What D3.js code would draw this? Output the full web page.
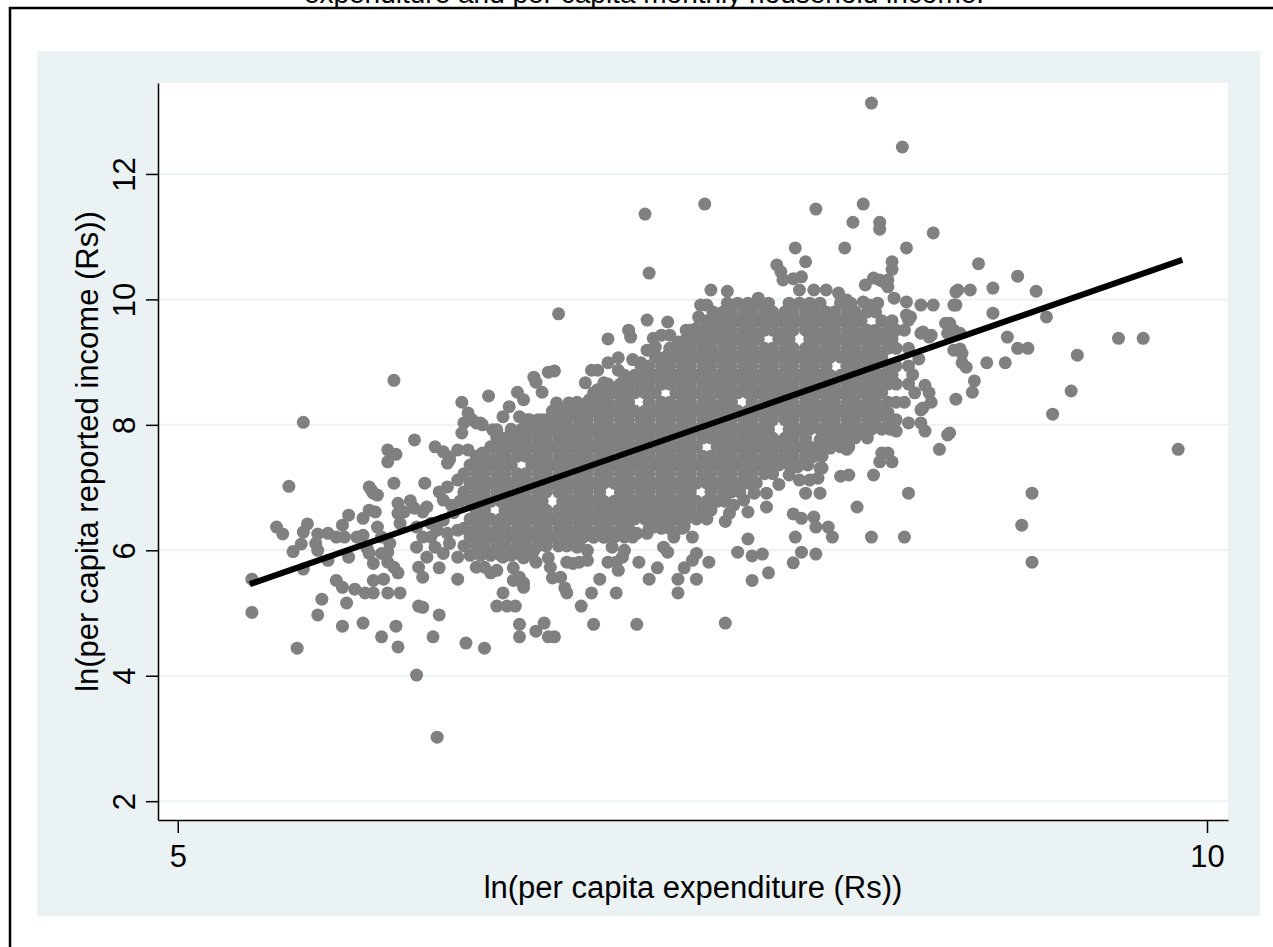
<!DOCTYPE html>
<html>
<head>
<meta charset="utf-8">
<script src="https://cdn.jsdelivr.net/npm/d3@7"></script>
<style>
  body { margin: 0; background: #fff; }
  svg { display: block; font-family: "Liberation Sans", Arial, sans-serif; }
</style>
</head>
<body>
<svg id="chart" width="1273" height="947"></svg>
<script>
// axis ticks
let yTicks = [2, 4, 6, 8, 10, 12];
let xTicks = [5, 10];

// linear fit line (end points, data units)
let fitExpenditure = [5.35, 9.88];
let fitIncome = [5.46, 10.63];

// dense core, read row by row: income level + expenditures on that row
let coreIncome = [9.94, 9.80, 9.66, 9.51, 9.37, 9.22, 9.08, 8.94, 8.79, 8.65, 8.51, 8.36, 8.22, 8.08, 7.93,
  7.79, 7.65, 7.50, 7.36, 7.22, 7.07, 6.93, 6.78, 6.64, 6.50, 6.35, 6.21, 6.07, 5.92];
let coreExpenditure = [
  [7.67,7.72,7.77,7.82,7.87,7.97,8.02,8.07,8.12,8.22,8.27],
  [7.60,7.65,7.69,7.75,7.79,7.85,7.89,7.95,7.99,8.05,8.09,8.15,8.19,8.25,8.29,8.35,8.39],
  [7.57,7.62,7.67,7.72,7.77,7.82,7.87,7.92,7.97,8.02,8.07,8.12,8.17,8.22,8.27,8.32,8.42,8.47],
  [7.49,7.55,7.59,7.65,7.69,7.75,7.79,7.85,7.89,7.95,7.99,8.05,8.09,8.15,8.19,8.25,8.29,8.35,8.39,8.45,8.49,8.53],
  [7.47,7.52,7.57,7.62,7.67,7.72,7.77,7.82,7.92,7.97,8.07,8.12,8.17,8.22,8.27,8.32,8.37,8.42,8.47],
  [7.39,7.45,7.49,7.55,7.59,7.65,7.69,7.75,7.79,7.85,7.89,7.95,7.99,8.05,8.09,8.15,8.19,8.25,8.29,8.35,8.39,8.45,8.49,8.55],
  [7.32,7.37,7.42,7.47,7.52,7.57,7.62,7.67,7.72,7.77,7.82,7.87,7.92,7.97,8.02,8.07,8.12,8.17,8.22,8.27,8.32,8.37,8.42],
  [7.25,7.29,7.35,7.39,7.45,7.49,7.55,7.59,7.65,7.69,7.75,7.79,7.85,7.89,7.95,7.99,8.05,8.09,8.15,8.25,8.29,8.35,8.39,8.45,8.49,8.55],
  [7.17,7.22,7.27,7.32,7.37,7.42,7.47,7.52,7.57,7.62,7.67,7.72,7.77,7.82,7.87,7.92,7.97,8.02,8.07,8.12,8.17,8.22,8.27,8.32,8.37,8.42,8.47],
  [7.09,7.15,7.19,7.25,7.29,7.35,7.39,7.45,7.49,7.55,7.59,7.65,7.69,7.75,7.79,7.85,7.89,7.95,7.99,8.05,8.09,8.15,8.19,8.25,8.29,8.35,8.39,8.45,8.49,8.55],
  [7.02,7.07,7.12,7.17,7.22,7.27,7.32,7.42,7.47,7.52,7.57,7.62,7.67,7.72,7.77,7.82,7.87,7.92,7.97,8.02,8.07,8.12,8.17,8.22,8.27,8.32,8.37,8.42],
  [6.94,6.99,7.05,7.09,7.15,7.19,7.29,7.35,7.39,7.45,7.49,7.55,7.59,7.65,7.69,7.79,7.85,7.89,7.95,7.99,8.05,8.09,8.15,8.19,8.25,8.29,8.35,8.39,8.45,8.49,8.53],
  [6.82,6.87,6.92,6.97,7.02,7.07,7.12,7.17,7.22,7.27,7.32,7.37,7.42,7.47,7.52,7.57,7.62,7.67,7.72,7.77,7.82,7.87,7.92,7.97,8.02,8.07,8.12,8.17,8.22,8.27,8.32,8.37,8.42],
  [6.70,6.75,6.79,6.85,6.89,6.95,6.99,7.05,7.09,7.15,7.19,7.25,7.29,7.35,7.39,7.45,7.49,7.55,7.59,7.65,7.69,7.75,7.79,7.85,7.89,7.95,7.99,8.05,8.09,8.15,8.19,8.25,8.29,8.35,8.39,8.45,8.49],
  [6.62,6.67,6.72,6.77,6.82,6.87,6.92,6.97,7.02,7.07,7.12,7.17,7.22,7.27,7.32,7.37,7.42,7.47,7.52,7.57,7.62,7.67,7.72,7.77,7.82,7.87,7.97,8.02,8.07,8.12,8.17,8.22,8.27,8.32,8.37,8.42,8.46],
  [6.55,6.59,6.65,6.69,6.75,6.79,6.85,6.89,6.95,6.99,7.05,7.09,7.15,7.19,7.25,7.29,7.35,7.39,7.45,7.49,7.55,7.59,7.65,7.69,7.75,7.79,7.85,7.89,7.95,7.99,8.05,8.15,8.19,8.25,8.29,8.35],
  [6.52,6.57,6.62,6.67,6.72,6.77,6.82,6.87,6.92,6.97,7.02,7.07,7.12,7.17,7.22,7.27,7.32,7.37,7.42,7.47,7.52,7.62,7.67,7.72,7.77,7.82,7.87,7.92,7.97,8.02,8.07,8.12,8.17,8.22,8.26],
  [6.45,6.49,6.55,6.59,6.65,6.69,6.75,6.79,6.85,6.89,6.95,6.99,7.05,7.09,7.15,7.19,7.25,7.29,7.35,7.39,7.45,7.49,7.55,7.59,7.65,7.69,7.75,7.79,7.85,7.89,7.95,7.99,8.05,8.09,8.13],
  [6.42,6.47,6.52,6.57,6.62,6.72,6.77,6.82,6.87,6.92,6.97,7.02,7.07,7.12,7.17,7.22,7.27,7.32,7.37,7.42,7.47,7.52,7.57,7.62,7.67,7.72,7.77,7.82,7.87,7.92,7.97,8.02],
  [6.39,6.45,6.49,6.55,6.59,6.65,6.69,6.75,6.79,6.85,6.89,6.95,6.99,7.05,7.09,7.15,7.19,7.25,7.29,7.35,7.39,7.45,7.49,7.55,7.59,7.65,7.69,7.75,7.79,7.85,7.89],
  [6.42,6.47,6.52,6.57,6.62,6.67,6.72,6.77,6.82,6.87,6.92,6.97,7.02,7.07,7.12,7.17,7.22,7.27,7.32,7.37,7.42,7.47,7.52,7.57,7.62,7.67,7.72,7.77,7.81],
  [6.39,6.45,6.49,6.55,6.59,6.65,6.69,6.75,6.79,6.85,6.89,6.95,6.99,7.05,7.15,7.19,7.25,7.29,7.35,7.39,7.45,7.49,7.59,7.65,7.69,7.73],
  [6.37,6.42,6.47,6.52,6.57,6.62,6.67,6.72,6.77,6.87,6.92,6.97,7.02,7.07,7.12,7.17,7.22,7.27,7.32,7.37,7.42,7.47,7.52,7.57,7.62,7.66],
  [6.45,6.49,6.59,6.65,6.69,6.75,6.79,6.85,6.89,6.95,6.99,7.05,7.09,7.15,7.19,7.25,7.29,7.35,7.39,7.45,7.49,7.55,7.59],
  [6.42,6.47,6.52,6.57,6.62,6.67,6.72,6.77,6.82,6.87,6.92,6.97,7.02,7.07,7.12,7.17,7.22,7.27,7.32,7.37,7.42,7.47,7.52,7.57],
  [6.39,6.45,6.49,6.55,6.59,6.65,6.69,6.75,6.79,6.85,6.89,6.95,6.99,7.05,7.09,7.15,7.19,7.29,7.35,7.39,7.45],
  [6.42,6.47,6.52,6.57,6.62,6.67,6.72,6.77,6.82,6.87,6.92,6.97,7.02,7.07,7.12,7.17,7.21],
  [6.39,6.45,6.49,6.55,6.59,6.65,6.69,6.75,6.79,6.85,6.89,6.95],
  [6.42,6.47,6.52,6.57,6.62,6.67,6.72]
];

// scattered households, [ln expenditure, ln income]
let leftPoints = [
  [5.36,5.54],[5.36,5.01],[5.58,4.44],[5.61,8.04],[5.54,7.02],[5.48,6.37],[5.51,6.26],[5.63,6.42],[5.61,6.29],
  [5.68,6.26],[5.73,6.27],[5.77,6.21],[5.80,6.40],[5.83,6.56],[5.81,6.21],[5.56,5.98],[5.60,6.10],[5.68,6.00],
  [5.67,6.11],[5.73,5.84],[5.61,5.70],[5.70,5.22],[5.68,4.97],[5.77,5.52],[5.80,5.41],[5.82,5.16],[5.80,4.79],
  [5.86,5.38],[5.90,4.84],[5.90,6.51],[5.93,6.64],[5.96,6.61],[5.93,7.01],[5.95,6.91],[5.87,6.21],[5.90,6.24],
  [5.92,6.03],[5.93,5.95],[5.95,5.79],[5.91,5.32],[5.95,5.32],[5.95,5.52],[6.00,5.54],[6.02,5.32],[6.08,5.32],
  [5.99,4.62],[6.06,4.79],[6.07,4.46],[6.16,4.01],[6.26,3.02],[6.02,7.60],[6.06,7.53],[6.02,7.41],[6.05,7.07],
  [5.94,6.96],[5.97,6.88],[6.15,7.76],[6.07,6.75],[6.13,6.79],[6.10,6.61],[6.07,6.59],[6.08,6.43],[5.99,6.21],
  [6.03,6.11],[6.02,5.97],[5.97,6.37],[6.02,5.81],[6.05,5.73],[6.07,5.64],[5.83,5.89],[5.99,5.95],[6.20,7.07],
  [6.15,6.67],[6.19,6.61],[6.21,6.69],[6.16,6.37],[6.19,6.21],[6.16,6.05],[6.21,5.89],[6.17,5.73],[6.19,5.57],
  [6.17,5.11],[6.19,5.09],[6.27,5.72],[6.27,4.97],[6.24,4.62],[6.25,6.05],[6.29,5.95],[6.26,6.32],[6.31,6.27],
  [6.25,7.65],[6.29,7.57],[6.32,7.49],[6.31,7.39],[6.38,8.36],[6.51,8.46],[6.05,8.71],[6.41,8.19],[6.45,8.03],
  [6.39,8.03],[6.48,8.00],[6.38,7.87],[6.36,7.60],[6.41,7.60],[6.32,7.44],[6.36,5.54],[6.40,4.52],[6.49,4.44],
  [6.27,6.93],[6.31,7.01],[6.29,6.80],[6.23,6.43],[6.23,6.21],[6.29,6.48],[6.32,6.11],[6.36,7.12],[6.39,6.85],
  [6.36,6.32],[6.36,5.89],[6.34,6.60],[6.33,6.72]
];

let lowerPoints = [
  [6.45,5.73],[6.49,5.73],[6.52,5.64],[6.55,5.68],[6.58,5.32],[6.55,5.11],[6.60,5.11],[6.64,5.11],[6.66,4.82],
  [6.66,4.62],[6.74,4.71],[6.78,4.84],[6.80,4.62],[6.83,4.62],[6.63,5.72],[6.66,5.57],[6.68,5.48],[6.51,5.95],
  [6.47,6.03],[6.63,5.52],[6.66,5.52],[6.68,5.41],[6.58,5.89],[6.58,6.05],[6.60,6.00],[6.70,6.00],[6.73,6.00],
  [6.68,5.88],[6.74,5.81],[6.80,5.88],[6.81,5.73],[6.82,5.56],[6.86,5.57],[6.88,5.40],[6.89,5.32],[6.89,5.81],
  [6.92,5.79],[6.95,5.81],[6.99,5.84],[6.99,6.00],[6.94,6.05],[7.05,5.54],[7.01,5.32],[6.96,5.11],[7.02,4.82],
  [7.13,5.32],[7.09,5.81],[7.13,5.81],[7.16,5.89],[7.14,5.68],[7.11,6.05],[7.17,6.00],[7.24,5.81],[7.23,4.82],
  [7.29,5.54],[7.33,5.72],[7.36,6.05],[7.38,5.97],[7.41,6.21],[7.43,5.54],[7.43,5.32],[7.46,5.72],[7.52,5.54],
  [7.52,5.95],[7.50,5.84],[7.58,5.81],[7.50,6.21],[7.46,6.53],[7.46,6.37],[7.40,6.64],[7.57,6.51],[7.18,6.27],
  [7.23,6.27],[7.28,6.27],[7.31,6.37],[7.13,6.27],[7.07,6.21],[7.02,6.21],[6.97,6.24],[6.91,6.27],[6.84,6.21],
  [6.81,6.21],[6.71,6.27],[6.66,6.21],[7.36,6.48],[7.33,6.59],[7.26,6.59],[7.20,6.53],
  [7.66,4.84],[7.79,5.52],[7.87,5.64],[7.72,5.97],[7.79,5.91],[7.84,5.94],[7.77,6.18],[7.99,5.80],[8.03,5.97],
  [8.10,5.94],[8.00,6.21],[7.99,6.58],[8.03,6.51],[8.09,6.53],[8.10,6.37],[8.16,6.37],[8.18,6.21],[8.37,6.21],
  [8.53,6.21],[8.30,6.69],[8.55,6.91],[8.38,7.20],[8.22,7.18],[8.26,7.20],[7.86,6.91],[7.86,6.69],[7.80,6.91],
  [7.75,6.80],[7.77,6.61],[7.68,6.59],[8.02,7.12],[8.07,7.12],[8.11,7.15],[8.05,6.91],[8.12,6.91],[7.97,7.20],
  [7.92,7.05],[7.70,6.72],[7.66,6.46]
];

let upperPoints = [
  [7.27,11.36],[7.56,11.52],[7.29,10.42],[7.59,10.15],[6.85,9.77],[7.54,9.91],[7.57,9.91],[7.53,9.72],[7.28,9.67],
  [7.38,9.64],[7.19,9.51],[7.20,9.40],[7.09,9.37],[7.47,9.51],[7.52,9.54],[7.57,9.43],[7.62,9.48],[7.31,9.38],
  [7.35,9.43],[7.39,9.43],[7.43,9.32],[6.73,8.76],[6.74,8.68],[6.80,8.84],[6.83,8.86],[6.65,8.52],[6.68,8.40],
  [6.77,8.52],[6.84,8.35],[6.90,8.35],[7.01,8.87],[7.04,8.87],[6.98,8.67],[7.09,8.99],[7.14,9.07],[7.14,8.87],
  [7.21,9.04],[7.25,8.99],[7.28,9.19],[7.32,9.24],[7.33,9.08],[7.39,9.14],[7.46,9.19],[7.49,9.24],[7.55,9.24],
  [7.59,9.14],[7.00,8.40],[7.04,8.56],[7.07,8.67],[6.58,8.13],[6.55,7.92],[6.61,8.29],[6.66,8.13],[6.47,8.03],
  [6.43,8.08],[6.71,8.08],[6.77,8.08],[6.82,8.03],[6.90,8.24],[6.94,8.13],[6.98,8.13],[6.48,7.55],[6.53,7.92],
  [6.60,7.71],
  [8.37,13.13],[8.52,12.43],[8.10,11.44],[8.33,11.52],[8.28,11.23],[8.41,11.23],[8.41,11.12],[8.67,11.06],
  [8.00,10.82],[8.24,10.82],[8.54,10.82],[8.05,10.60],[7.91,10.55],[7.93,10.44],[7.94,10.31],[7.99,10.33],
  [8.03,10.36],[8.47,10.60],[8.47,10.48],[8.34,10.23],[8.38,10.34],[8.43,10.28],[8.45,10.20],[7.67,10.13],
  [7.82,10.02],[8.02,10.15],[8.09,10.15],[8.15,10.15],[8.21,10.10],[8.25,9.99],[8.48,10.02],[8.54,9.96],
  [8.61,9.91],[8.67,9.91],[8.78,10.12],[8.77,9.91],[8.40,9.94],[8.33,9.96],[8.75,9.62],[8.74,9.46],[8.77,9.19],
  [8.80,9.46],[8.61,9.46],[8.65,9.40],[8.56,9.72],[8.41,10.31],[8.45,10.31],[8.54,9.75],[8.55,9.67],[8.62,9.48],
  [8.66,9.43],[8.73,9.62],[8.77,9.51],[8.80,9.21],[8.81,9.14],[8.36,9.91]
];

let rightPoints = [
  [8.89,10.57],[9.08,10.37],[8.96,10.18],[9.17,10.13],[8.79,10.15],[8.85,10.15],[8.78,9.91],[8.96,9.78],
  [9.22,9.72],[9.03,9.40],[9.08,9.22],[9.13,9.22],[9.57,9.38],[9.69,9.38],[9.37,9.11],
  [8.42,7.55],[8.45,7.55],[8.47,7.41],[8.41,7.41],[8.25,7.61],[8.70,7.61],[8.74,7.84],[8.75,7.87],[8.49,7.90],
  [8.55,8.03],[8.61,8.03],[8.63,7.90],[8.61,8.24],[8.62,8.27],[8.45,8.20],[8.35,8.28],[8.39,8.12],[8.58,8.51],
  [8.66,8.36],[8.65,8.51],[8.63,8.63],[8.78,8.41],[8.17,7.63],[8.13,7.31],[8.08,7.49],[8.01,7.33],[8.06,7.36],
  [8.12,7.31],[8.12,7.76],[8.15,7.79],[8.20,7.81],[8.23,7.87],[8.28,7.89],[8.33,7.92],
  [9.86,7.61],[9.15,6.91],[9.10,6.40],[9.15,5.81],[9.25,8.17],[9.34,8.54],[8.86,8.52],[8.87,8.70],[8.93,8.99],
  [9.02,8.99],[8.81,8.99],[8.83,8.92],[8.57,8.80],[8.60,9.05]
];

let svg = d3.select('#chart');

// scales, fitted to Stata's plot region
let x = d3.scaleLinear().domain([4.904, 10.102]).range([158, 1228]);
let y = d3.scaleLinear().domain([1.70, 13.45]).range([820, 83]);

let bgBlue = '#eaf2f3';

// clipped caption of the figure above
svg.append('text')
  .attr('x', 644).attr('y', 3)
  .attr('text-anchor', 'middle')
  .attr('font-size', 28)
  .text('expenditure and per capita monthly household income.');

// outer frame (runs past the right and bottom edge)
svg.append('rect')
  .attr('x', 10).attr('y', 8)
  .attr('width', 1300).attr('height', 1000)
  .attr('fill', 'none').attr('stroke', '#000').attr('stroke-width', 2.5);

// graph region
svg.append('rect')
  .attr('x', 37).attr('y', 51)
  .attr('width', 1223).attr('height', 865)
  .attr('fill', bgBlue);

// plot region
svg.append('rect')
  .attr('x', 158).attr('y', 83)
  .attr('width', 1070).attr('height', 737)
  .attr('fill', '#fff');

// grid lines
svg.append('g')
  .selectAll('line')
  .data(yTicks)
  .join('line')
  .attr('x1', 158).attr('x2', 1228)
  .attr('y1', d => y(d)).attr('y2', d => y(d))
  .attr('stroke', bgBlue).attr('stroke-width', 2);

// all the scattered points
let points = [];
coreIncome.forEach((inc, i) => {
  coreExpenditure[i].forEach(e => points.push([e, inc]));
});
points = points.concat(leftPoints, lowerPoints, upperPoints, rightPoints);

svg.append('g')
  .selectAll('circle')
  .data(points)
  .join('circle')
  .attr('cx', d => x(d[0]))
  .attr('cy', d => y(d[1]))
  .attr('r', 6.5)
  .attr('fill', '#808080');

// fitted line
svg.append('line')
  .attr('x1', x(fitExpenditure[0])).attr('y1', y(fitIncome[0]))
  .attr('x2', x(fitExpenditure[1])).attr('y2', y(fitIncome[1]))
  .attr('stroke', '#000').attr('stroke-width', 6);

// y axis
let yAxis = svg.append('g')
  .attr('transform', 'translate(158,0)')
  .call(d3.axisLeft(y).tickValues(yTicks).tickSize(12).tickSizeOuter(0).tickFormat(d3.format('d')));
yAxis.selectAll('text')
  .attr('transform', 'rotate(-90)')
  .attr('x', 0).attr('y', -23).attr('dy', 0)
  .attr('text-anchor', 'middle')
  .attr('font-size', 31)
  .attr('font-family', '"Liberation Sans", Arial, sans-serif')
  .attr('fill', '#000');

// x axis
let xAxis = svg.append('g')
  .attr('transform', 'translate(0,820)')
  .call(d3.axisBottom(x).tickValues(xTicks).tickSize(13).tickSizeOuter(0).tickFormat(d3.format('d')));
xAxis.selectAll('text')
  .attr('y', 47).attr('dy', 0)
  .attr('font-size', 31)
  .attr('font-family', '"Liberation Sans", Arial, sans-serif')
  .attr('fill', '#000');

svg.selectAll('.domain, .tick line').attr('stroke', '#000').attr('stroke-width', 1.5);

// axis titles
svg.append('text')
  .attr('x', 693).attr('y', 898)
  .attr('text-anchor', 'middle')
  .attr('font-size', 31)
  .text('ln(per capita expenditure (Rs))');

svg.append('text')
  .attr('transform', 'translate(98,451.5) rotate(-90)')
  .attr('text-anchor', 'middle')
  .attr('font-size', 31)
  .text('ln(per capita reported income (Rs))');
</script>
</body>
</html>
